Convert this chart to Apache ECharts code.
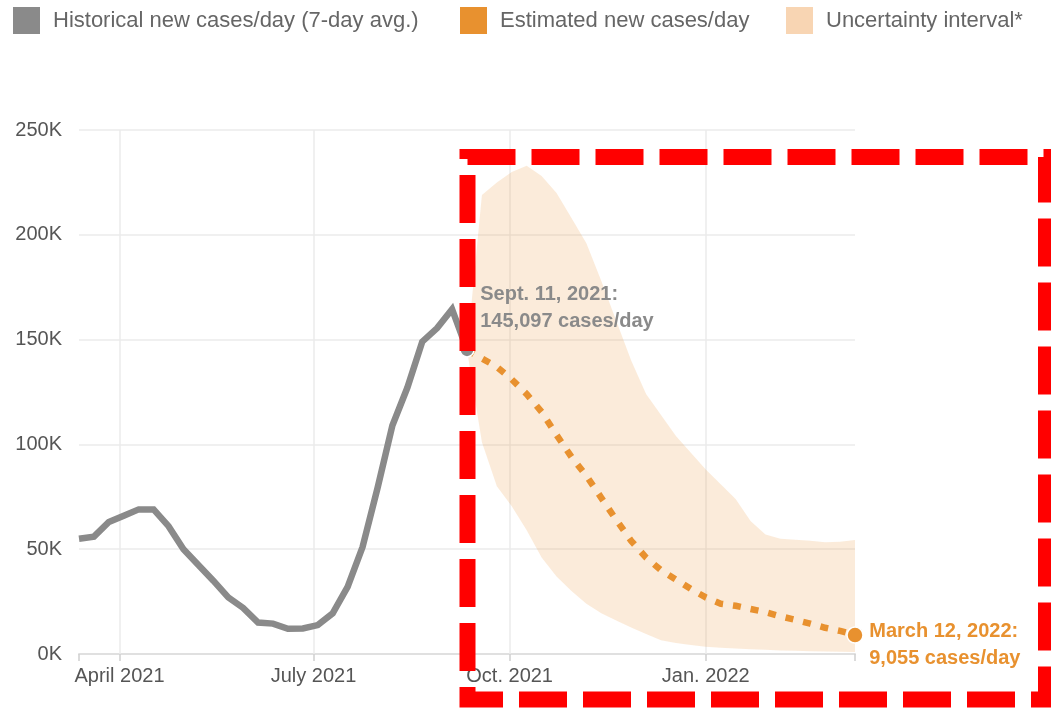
<!DOCTYPE html>
<html>
<head>
<meta charset="utf-8">
<script src="https://cdn.jsdelivr.net/npm/echarts@6/dist/echarts.min.js"></script>
<style>
  html, body { margin: 0; padding: 0; background: #fff; }
  #chart { width: 1051px; height: 708px; }
</style>
</head>
<body>
<div id="chart"></div>
<script>
// ---- data ----
var histName = 'Historical new cases/day (7-day avg.)';
var foreName = 'Estimated new cases/day';
var bandName = 'Uncertainty interval*';

var histDates = ['2021-03-13', '2021-03-20', '2021-03-27', '2021-04-03', '2021-04-10', '2021-04-17',
  '2021-04-24', '2021-05-01', '2021-05-08', '2021-05-15', '2021-05-22', '2021-05-29', '2021-06-05',
  '2021-06-12', '2021-06-19', '2021-06-26', '2021-07-03', '2021-07-10', '2021-07-17', '2021-07-24',
  '2021-07-31', '2021-08-07', '2021-08-14', '2021-08-21', '2021-08-28', '2021-09-04', '2021-09-11'];
var histCases = [55000, 56000, 63000, 66000, 69000, 69000, 61000, 50000, 42500, 35000, 27000, 22000,
  15000, 14500, 12000, 12200, 13800, 19400, 32000, 51000, 79000, 109000, 127000, 149000, 155500,
  164500, 145097];

var foreDates = ['2021-09-11', '2021-09-18', '2021-09-25', '2021-10-02', '2021-10-09', '2021-10-16',
  '2021-10-23', '2021-10-30', '2021-11-06', '2021-11-13', '2021-11-20', '2021-11-27', '2021-12-04',
  '2021-12-11', '2021-12-18', '2021-12-25', '2022-01-01', '2022-01-08', '2022-01-15', '2022-01-22',
  '2022-01-29', '2022-02-05', '2022-02-12', '2022-02-19', '2022-02-26', '2022-03-05', '2022-03-12'];
var foreCases = [145097, 141000, 137000, 131000, 124000, 115500, 104500, 94000, 85000, 74500, 64000,
  54000, 46000, 40000, 35500, 31000, 27000, 24000, 23000, 21500, 20000, 18000, 16300, 14500, 12500,
  11000, 9055];
var bandLower = [145097, 101000, 80000, 70500, 59000, 46000, 37000, 30000, 24000, 19500, 16000, 12700,
  9500, 6600, 5300, 4300, 3500, 3000, 2600, 2300, 2000, 1700, 1500, 1300, 1200, 1100, 1000];
var bandUpper = [145097, 219000, 225000, 230000, 233000, 228000, 220000, 208000, 196000, 178000,
  159000, 140000, 124000, 114000, 104000, 96000, 88000, 81000, 74000, 63500, 57000, 55000, 54500,
  54000, 53300, 53500, 54400];

var tickDates = ['2021-04-01', '2021-07-01', '2021-10-01', '2022-01-01'];
var tickLabels = ['April 2021', 'July 2021', 'Oct. 2021', 'Jan. 2022'];
var xStart = '2021-03-13';
var xEnd = '2022-03-12';

var histNote = 'Sept. 11, 2021:\n145,097 cases/day';
var foreNote = 'March 12, 2022:\n9,055 cases/day';

// ---- helpers ----
var FONT = '"Liberation Sans", Arial, Helvetica, sans-serif';
var GRAY = '#8a8a8a';
var ORANGE = '#e8912f';
var BAND = 'rgba(232,145,48,0.18)';

function ts(s) {
  var p = s.split('-');
  return new Date(+p[0], +p[1] - 1, +p[2]).getTime();
}

function pairs(dates, vals) {
  return dates.map(function (d, i) { return [ts(d), vals[i]]; });
}

var tickTimes = tickDates.map(ts);

var histData = pairs(histDates, histCases);
var last = histData.length - 1;
histData[last] = {
  value: histData[last],
  symbol: 'circle',
  symbolSize: 14,
  itemStyle: { color: GRAY, borderColor: '#fff', borderWidth: 1.5 },
  label: {
    show: true, position: [21, -61], align: 'left', verticalAlign: 'top',
    formatter: histNote, fontFamily: FONT, fontSize: 20, fontWeight: 'bold',
    color: GRAY, lineHeight: 27
  }
};

var foreData = pairs(foreDates, foreCases);
var fl = foreData.length - 1;
foreData[fl] = {
  value: foreData[fl],
  symbol: 'circle',
  symbolSize: 16,
  itemStyle: { color: ORANGE, borderColor: '#fff', borderWidth: 1.5 },
  label: {
    show: true, position: [23, -8], align: 'left', verticalAlign: 'top',
    formatter: foreNote, fontFamily: FONT, fontSize: 20, fontWeight: 'bold',
    color: ORANGE, lineHeight: 27
  }
};

// uncertainty band as one polygon: upper edge forward, lower edge back
function renderBand(params, api) {
  if (params.dataIndex !== 0) return null;
  var pts = [];
  for (var i = 0; i < foreDates.length; i++) {
    pts.push(api.coord([ts(foreDates[i]), bandUpper[i]]));
  }
  for (var j = foreDates.length - 1; j >= 0; j--) {
    pts.push(api.coord([ts(foreDates[j]), bandLower[j]]));
  }
  return { type: 'polygon', shape: { points: pts }, style: { fill: BAND } };
}

function legendAt(left, name, color) {
  return {
    left: left, top: 7, padding: 0, icon: 'rect', itemWidth: 27, itemHeight: 27,
    selectedMode: false,
    data: [{ name: name, itemStyle: { color: color } }],
    textStyle: { fontFamily: FONT, fontSize: 22, color: '#666', padding: [0, 0, 0, 8] }
  };
}

var chart = echarts.init(document.getElementById('chart'));

chart.setOption({
  animation: false,
  legend: [
    legendAt(13, histName, GRAY),
    legendAt(460, foreName, ORANGE),
    legendAt(786, bandName, '#f8d5b3')
  ],
  grid: { left: 79, right: 196, top: 130, bottom: 54 },
  xAxis: {
    type: 'value',
    min: ts(xStart),
    max: ts(xEnd),
    axisLine: { lineStyle: { color: '#e0e0e0', width: 2 } },
    axisTick: {
      show: true, length: 7,
      customValues: [ts(xStart)].concat(tickTimes, [ts(xEnd)]),
      lineStyle: { color: '#cfcfcf', width: 1.5 }
    },
    axisLabel: {
      customValues: tickTimes,
      formatter: function (v) {
        var i = tickTimes.indexOf(v);
        return i >= 0 ? tickLabels[i] : '';
      },
      fontFamily: FONT, fontSize: 20, color: '#555', margin: 12
    },
    splitLine: { show: false }
  },
  yAxis: {
    type: 'value',
    min: 0, max: 250000, interval: 50000,
    axisLine: { show: false },
    axisTick: { show: false },
    axisLabel: {
      formatter: function (v) { return (v / 1000) + 'K'; },
      fontFamily: FONT, fontSize: 20, color: '#555', margin: 17
    },
    splitLine: { lineStyle: { color: '#ebebeb', width: 1.5 } }
  },
  series: [
    {
      name: bandName, type: 'custom', silent: true, z: 2,
      data: pairs(foreDates, bandUpper),
      encode: { x: 0, y: 1 },
      itemStyle: { color: '#f8d5b3' },
      renderItem: renderBand
    },
    {
      name: foreName, type: 'line', z: 3,
      data: foreData,
      symbol: 'none', showAllSymbol: true,
      itemStyle: { color: ORANGE },
      lineStyle: { color: ORANGE, width: 6.5, type: [8, 10], cap: 'butt' }
    },
    {
      name: histName, type: 'line', z: 4,
      data: histData,
      symbol: 'none', showAllSymbol: true,
      itemStyle: { color: GRAY },
      lineStyle: { color: GRAY, width: 6.5, join: 'miter' },
      // vertical grid lines at the labelled quarter starts
      markLine: {
        z: 1, silent: true, symbol: ['none', 'none'], label: { show: false },
        lineStyle: { color: '#ebebeb', width: 1.5, type: 'solid' },
        data: tickTimes.map(function (t) { return { xAxis: t }; })
      }
    }
  ],
  graphic: [
    {
      type: 'rect', z: 100, silent: true,
      shape: { x: 467.5, y: 157, width: 578.5, height: 542.5 },
      style: { fill: 'none', stroke: '#ff0000', lineWidth: 16, lineDash: [48, 16] }
    }
  ]
});
</script>
</body>
</html>
